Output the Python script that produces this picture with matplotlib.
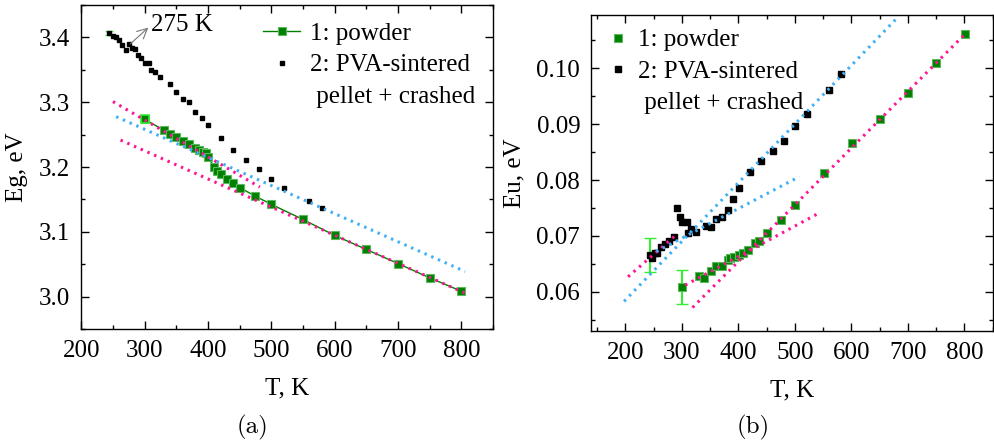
import matplotlib
matplotlib.use("Agg")
import matplotlib.pyplot as plt
from matplotlib.ticker import MultipleLocator, FormatStrFormatter
from matplotlib.lines import Line2D

plt.rcParams["font.family"] = ["Liberation Serif", "DejaVu Serif"]
plt.rcParams["font.size"] = 18

GREEN = "#008000"
LIME = "#33ee33"
PINK = "#ff1493"
BLUE = "#3fb0f5"

# (a) band gap Eg
T_pow_a = [300, 330, 340, 350, 360, 370, 380, 386, 392, 397, 400, 410, 415, 420,
           430, 440, 450, 475, 500, 550, 600, 650, 700, 750, 800]
Eg_pow = [3.2735, 3.257, 3.2508, 3.2461, 3.2405, 3.2359, 3.2297, 3.2255, 3.223,
          3.221, 3.2152, 3.200, 3.1946, 3.189, 3.181, 3.176, 3.1683, 3.1548,
          3.1424, 3.119, 3.0944, 3.0728, 3.051, 3.029, 3.0083]
T_pva_a = [244, 250, 255, 260, 265, 270, 275, 280, 285, 290, 295, 300, 307, 310,
           316, 324, 340, 350, 360, 370, 380, 390, 400, 420, 440, 460, 480, 500,
           520, 560, 580]
Eg_pva = [3.407, 3.4025, 3.400, 3.396, 3.389, 3.380, 3.390, 3.383, 3.382, 3.3726,
          3.3675, 3.3607, 3.3607, 3.349, 3.347, 3.339, 3.328, 3.3164, 3.3055,
          3.301, 3.2854, 3.275, 3.2653, 3.2446, 3.226, 3.2105, 3.1972, 3.1822,
          3.168, 3.147, 3.1368]
# linear fits: (T start, T end, E start, E end)
fits_a_pink = [(250, 482, 3.301, 3.169), (262, 805, 3.2415, 3.0057)]
fits_a_blue = [(255, 806, 3.2777, 3.0387)]

# (b) Urbach energy Eu
T_pow_b = [301, 331, 340, 351, 361, 372, 381, 386, 393, 401, 409, 418, 429, 437,
           451, 476, 501, 551, 601, 650, 700, 750, 801]
Eu_pow = [0.0609, 0.0629, 0.0625, 0.0638, 0.0646, 0.0647, 0.0657, 0.0661, 0.0663,
          0.0666, 0.0669, 0.0675, 0.0687, 0.0691, 0.0705, 0.0728, 0.0755, 0.0813,
          0.0866, 0.0909, 0.0956, 0.1009, 0.1061]
T_pva_b = [244, 247, 252, 257, 263, 271, 277, 286, 292, 296, 301, 309, 311, 317,
           325, 342, 352, 361, 371, 382, 391, 401, 420, 441, 461, 481, 501, 521,
           561, 581]
Eu_pva = [0.0666, 0.0660, 0.0670, 0.0670, 0.0681, 0.0685, 0.0691, 0.0698, 0.0750,
          0.0734, 0.0725, 0.0725, 0.0706, 0.0713, 0.0707, 0.0718, 0.0716, 0.0731,
          0.0734, 0.0746, 0.0766, 0.0785, 0.0814, 0.0834, 0.0851, 0.0870, 0.0897,
          0.0918, 0.0961, 0.0989]
fits_b_pink = [(205, 290, 0.0627, 0.0702), (306, 543, 0.0612, 0.0741),
               (319, 801, 0.0572, 0.1061)]
fits_b_blue = [(198, 683, 0.0583, 0.1092), (255, 508, 0.0672, 0.0806)]

labels = ["1: powder", "2: PVA-sintered", " pellet + crashed"]


def style_ax(ax):
    ax.tick_params(which="both", direction="in", top=True, right=True, width=1)
    ax.tick_params(which="major", length=6, pad=8)
    ax.tick_params(which="minor", length=3)
    for s in ax.spines.values():
        s.set_linewidth(1)


def draw_fits(ax, fits, color):
    for t0, t1, e0, e1 in fits:
        ax.plot([t0, t1], [e0, e1], color=color, lw=2.2,
                linestyle=(0, (0.8, 1.6)), zorder=5)


blank = Line2D([], [], lw=0, marker=None)

fig = plt.figure(figsize=(9.95, 4.45), dpi=100)

# panel (a)
ax1 = fig.add_axes([0.0817, 0.2607, 0.4138, 0.728])
h1, = ax1.plot(T_pow_a, Eg_pow, "-s", color=GREEN, lw=1, ms=6, mec="#5cb85c",
               mew=0.8, zorder=3)
ax1.plot(T_pow_a[0], Eg_pow[0], "s", color=GREEN, ms=5.5, mec=LIME, mew=1.2, zorder=4)
h2, = ax1.plot(T_pva_a, Eg_pva, "s", color="black", ms=3.4, lw=0, zorder=3)
ax1.errorbar(T_pva_a[0], Eg_pva[0], yerr=0.003, color=LIME, capsize=3, lw=1.5,
             zorder=2)
draw_fits(ax1, fits_a_pink, PINK)
draw_fits(ax1, fits_a_blue, BLUE)
ax1.annotate("", xy=(309, 3.418), xytext=(274, 3.387),
             arrowprops=dict(arrowstyle="->", color="#777777", lw=0.8))
ax1.text(310, 3.419, "275 K", va="center", ha="left")
ax1.set_xlim(200, 850)
ax1.set_ylim(2.95, 3.45)
ax1.xaxis.set_major_locator(MultipleLocator(100))
ax1.xaxis.set_minor_locator(MultipleLocator(50))
ax1.yaxis.set_major_locator(MultipleLocator(0.1))
ax1.yaxis.set_minor_locator(MultipleLocator(0.05))
ax1.yaxis.set_major_formatter(FormatStrFormatter("%.1f"))
ax1.set_xlabel("T, K", labelpad=11)
ax1.set_ylabel("Eg, eV", labelpad=8)
style_ax(ax1)
ax1.legend([h1, h2, blank], labels, loc="upper right", frameon=False,
           handlelength=1.5, handletextpad=0.4, borderaxespad=0.3,
           labelspacing=0.35)

# panel (b)
ax2 = fig.add_axes([0.5943, 0.2562, 0.4034, 0.710])
g1, = ax2.plot(T_pow_b, Eu_pow, "s", color=GREEN, ms=6, mec="#5cb85c", mew=0.8,
               lw=0, zorder=3)
ax2.errorbar(T_pow_b[0], Eu_pow[0], yerr=0.003, color=LIME, capsize=4, lw=1.5,
             zorder=2)
g2, = ax2.plot(T_pva_b, Eu_pva, "s", color="black", ms=5, lw=0, zorder=3)
ax2.errorbar(T_pva_b[0], Eu_pva[0], yerr=0.003, color=LIME, capsize=4, lw=1.5,
             zorder=2)
draw_fits(ax2, fits_b_pink, PINK)
draw_fits(ax2, fits_b_blue, BLUE)
ax2.set_xlim(140, 850)
ax2.set_ylim(0.053, 0.1095)
ax2.xaxis.set_major_locator(MultipleLocator(100))
ax2.xaxis.set_minor_locator(MultipleLocator(50))
ax2.yaxis.set_major_locator(MultipleLocator(0.01))
ax2.yaxis.set_minor_locator(MultipleLocator(0.005))
ax2.yaxis.set_major_formatter(FormatStrFormatter("%.2f"))
ax2.set_xlabel("T, K", labelpad=11)
ax2.set_ylabel("Eu, eV", labelpad=8)
style_ax(ax2)
ax2.legend([g1, g2, blank], labels, loc="upper left", frameon=False,
           handlelength=1.0, handletextpad=0.3, borderaxespad=0.15,
           labelspacing=0.35)

fig.text(0.254, 0.04, "(a)", ha="center", va="center", family="cmr10")
fig.text(0.757, 0.04, "(b)", ha="center", va="center", family="cmr10")

fig.savefig("out.png", dpi=100)
